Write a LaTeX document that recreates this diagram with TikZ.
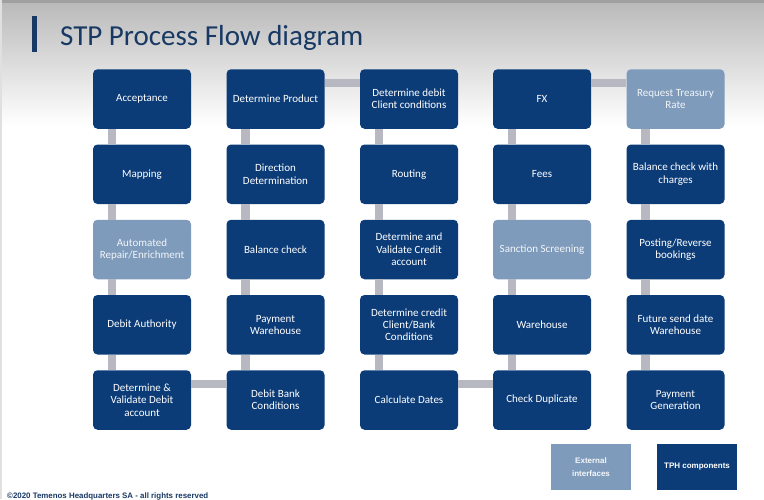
\documentclass[tikz,border=0pt]{standalone}
\usepackage{fontspec}
\setmainfont{Carlito}
\newfontfamily\arialfont{Liberation Sans}
\usetikzlibrary{calc}

\definecolor{tphblue}{RGB}{12,60,120}
\definecolor{extblue}{RGB}{127,155,188}
\definecolor{barGray}{RGB}{184,184,194}
\definecolor{titleblue}{RGB}{24,57,100}
\definecolor{topband}{RGB}{160,160,160}
\definecolor{topshade}{RGB}{186,186,186}

\tikzset{
  proc/.style={rectangle, rounded corners=4.5pt, fill=tphblue, minimum width=98pt,
    minimum height=59.5pt, text=white, align=center, inner sep=2pt,
    font=\fontsize{11}{12.3}\selectfont},
  extproc/.style={proc, fill=extblue, text=white!90!extblue},
  legendbox/.style={rectangle, minimum width=80pt, minimum height=46pt, inner sep=1pt,
    align=center, text=white, font=\arialfont\bfseries\fontsize{8}{12.6}\selectfont},
  link/.style={draw=barGray, line width=8.5pt},
}

\begin{document}
\begin{tikzpicture}[x=1pt,y=-1pt]
\useasboundingbox (0,0) rectangle (764,499);
\clip (0,0) rectangle (764,499);

% slide background
\fill[white] (0,0) rectangle (764,499);
\shade[top color=topshade, bottom color=white] (0,3) rectangle (764,125);
\fill[topband] (0,0) rectangle (764,3);
\fill[black!12] (0,0) rectangle (1.5,499);

% title
\fill[titleblue] (32,16) rectangle (36.5,52);
\node[anchor=base west, inner sep=0, text=titleblue, font=\fontsize{29}{34}\selectfont]
  (title) at (60,45) {STP Process Flow diagram};

% column 1
\node[proc] (c1r1) at (142,99)     {Acceptance};
\node[proc] (c1r2) at (142,174.25) {Mapping};
\node[extproc] (c1r3) at (142,249.5) {Automated\\Repair/Enrichment};
\node[proc] (c1r4) at (142,324.75) {Debit Authority};
\node[proc] (c1r5) at (142,400)    {Determine \&\\Validate Debit\\account};

% column 2
\node[proc] (c2r1) at (275.5,99)     {Determine Product};
\node[proc] (c2r2) at (275.5,174.25) {Direction\\Determination};
\node[proc] (c2r3) at (275.5,249.5)  {Balance check};
\node[proc] (c2r4) at (275.5,324.75) {Payment\\Warehouse};
\node[proc] (c2r5) at (275.5,400)    {Debit Bank\\Conditions};

% column 3
\node[proc] (c3r1) at (409,99)     {Determine debit\\Client conditions};
\node[proc] (c3r2) at (409,174.25) {Routing};
\node[proc] (c3r3) at (409,249.5)  {Determine and\\Validate Credit\\account};
\node[proc] (c3r4) at (409,324.75) {Determine credit\\Client/Bank\\Conditions};
\node[proc] (c3r5) at (409,400)    {Calculate Dates};

% column 4
\node[proc] (c4r1) at (542,99)     {FX};
\node[proc] (c4r2) at (542,174.25) {Fees};
\node[extproc] (c4r3) at (542,249.5) {Sanction Screening};
\node[proc] (c4r4) at (542,324.75) {Warehouse};
\node[proc] (c4r5) at (542,400)    {Check Duplicate};

% column 5
\node[extproc] (c5r1) at (675.5,99) {Request Treasury\\Rate};
\node[proc] (c5r2) at (675.5,174.25) {Balance check with\\charges};
\node[proc] (c5r3) at (675.5,249.5)  {Posting/Reverse\\bookings};
\node[proc] (c5r4) at (675.5,324.75) {Future send date\\Warehouse};
\node[proc] (c5r5) at (675.5,400)    {Payment\\Generation};

% vertical links inside each column
\foreach \c in {1,...,5}{
  \foreach \r [evaluate=\r as \n using int(\r+1)] in {1,...,4}{
    \draw[link] ($(c\c r\r.south west)+(19,0)$) -- ($(c\c r\n.north west)+(19,0)$);
  }
}

% horizontal links between columns
\draw[link] ($(c1r5.north east)+(0,14)$) -- ($(c2r5.north west)+(0,14)$);
\draw[link] ($(c2r1.north east)+(0,14)$) -- ($(c3r1.north west)+(0,14)$);
\draw[link] ($(c3r5.north east)+(0,14)$) -- ($(c4r5.north west)+(0,14)$);
\draw[link] ($(c4r1.north east)+(0,14)$) -- ($(c5r1.north west)+(0,14)$);

% legend
\node[legendbox, fill=extblue, text=white!92!extblue] (legext) at (591,467) {External\\interfaces};
\node[legendbox, fill=tphblue] (legtph) at (697,467) {TPH components};

% footer
\node[anchor=base west, inner sep=0, text=titleblue,
  font=\arialfont\bfseries\fontsize{7.9}{9}\selectfont]
  (footer) at (7,498.5) {©2020 Temenos Headquarters SA - all rights reserved};
\end{tikzpicture}
\end{document}
